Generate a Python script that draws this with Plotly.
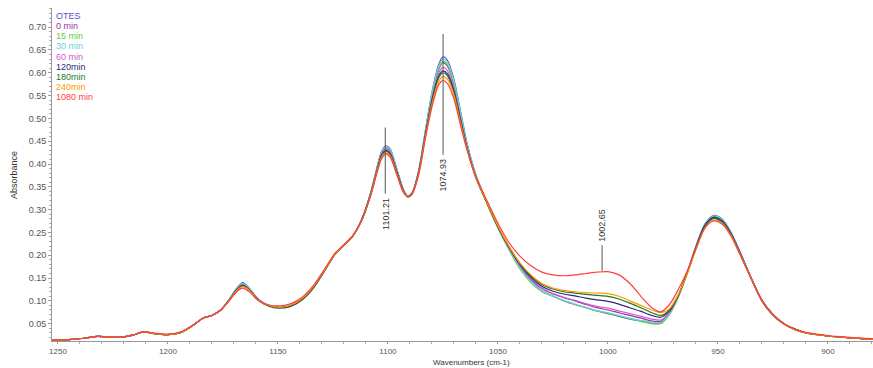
import plotly.graph_objects as go

wavenumber = [1253,1245,1238,1232,1228,1222,1216,1211,1206,1200,
              1194,1189,1184,1180,1176,1172,1169,1166,1163,1159,
              1154,1149,1144,1139,1134,1129,1124,1120,1116,1112,
              1108,1105,1103,1101,1099,1096,1093,1091,1089,1086,
              1083,1080,1077,1075,1073,1070,1067,1064,1060,1055,
              1050,1045,1040,1035,1030,1025,1020,1015,1010,1005,
              1000,995,990,985,980,976,972,968,964,960,
              956,952,948,944,940,935,930,925,920,915,
              910,900,890,879]

otes = [.014,.015,.018,.022,.021,.020,.025,.032,.028,.026,
        .031,.045,.062,.068,.080,.104,.126,.140,.128,.104,
        .089,.084,.089,.103,.128,.165,.203,.222,.242,.278,
        .335,.392,.427,.440,.433,.390,.345,.330,.337,.386,
        .472,.557,.617,.635,.628,.586,.516,.445,.376,.316,
        .262,.215,.175,.145,.122,.110,.100,.092,.085,.078,
        .072,.066,.060,.056,.052,.052,.072,.110,.162,.220,
        .268,.287,.279,.250,.208,.152,.102,.070,.050,.038,
        .030,.023,.019,.016]

min0 = [.014,.015,.018,.022,.021,.020,.025,.032,.028,.026,
        .031,.045,.062,.068,.080,.103,.124,.137,.126,.103,
        .089,.085,.089,.103,.128,.165,.203,.222,.242,.277,
        .333,.389,.423,.436,.429,.387,.343,.329,.336,.384,
        .468,.548,.606,.622,.615,.575,.508,.440,.373,.315,
        .262,.216,.177,.148,.127,.115,.107,.100,.092,.085,
        .080,.074,.068,.062,.056,.055,.073,.110,.161,.218,
        .266,.285,.277,.248,.206,.151,.101,.070,.050,.038,
        .030,.023,.019,.016]

min15 = [.014,.015,.018,.022,.021,.020,.025,.032,.028,.026,
         .031,.045,.062,.068,.080,.103,.124,.136,.126,.103,
         .088,.084,.088,.102,.127,.164,.202,.221,.241,.277,
         .333,.389,.424,.437,.430,.388,.343,.329,.336,.385,
         .469,.551,.608,.625,.618,.578,.510,.441,.373,.314,
         .260,.212,.170,.140,.120,.110,.100,.092,.085,.078,
         .073,.067,.061,.055,.050,.050,.070,.108,.160,.217,
         .265,.284,.276,.247,.205,.150,.100,.069,.049,.037,
         .030,.023,.019,.016]

min30 = [.014,.015,.018,.022,.021,.020,.025,.032,.028,.026,
         .031,.045,.062,.068,.080,.104,.125,.138,.127,.103,
         .088,.084,.089,.103,.128,.165,.203,.222,.242,.278,
         .334,.390,.425,.438,.431,.389,.344,.330,.337,.386,
         .471,.555,.613,.630,.623,.582,.513,.443,.375,.315,
         .261,.214,.173,.143,.122,.111,.101,.093,.086,.079,
         .074,.068,.062,.057,.053,.053,.072,.110,.162,.219,
         .267,.286,.278,.249,.207,.151,.101,.070,.050,.038,
         .030,.023,.019,.016]

min60 = [.014,.015,.018,.022,.021,.020,.025,.032,.028,.026,
         .031,.045,.062,.068,.080,.103,.123,.135,.125,.102,
         .089,.085,.089,.103,.128,.165,.203,.222,.242,.277,
         .332,.387,.421,.433,.426,.385,.342,.329,.336,.383,
         .465,.543,.598,.612,.605,.566,.500,.436,.371,.315,
         .262,.216,.178,.149,.128,.116,.108,.101,.094,.088,
         .084,.078,.072,.066,.060,.058,.075,.111,.160,.216,
         .264,.282,.274,.246,.205,.150,.100,.069,.049,.037,
         .030,.023,.019,.016]

min120 = [.014,.015,.018,.022,.021,.020,.025,.032,.028,.026,
          .031,.045,.062,.068,.080,.103,.123,.134,.124,.102,
          .089,.085,.089,.103,.128,.165,.203,.222,.242,.276,
          .331,.385,.418,.430,.423,.383,.341,.328,.335,.382,
          .463,.539,.592,.604,.598,.561,.497,.434,.370,.315,
          .262,.218,.180,.152,.132,.121,.115,.111,.106,.102,
          .099,.093,.085,.077,.068,.064,.078,.112,.161,.217,
          .265,.283,.275,.247,.206,.151,.101,.070,.050,.038,
          .030,.023,.019,.016]

min180 = [.014,.015,.018,.022,.021,.020,.025,.032,.028,.026,
          .031,.045,.062,.068,.080,.102,.122,.133,.124,.102,
          .089,.085,.090,.104,.129,.165,.203,.222,.242,.276,
          .330,.384,.416,.428,.421,.381,.340,.328,.335,.381,
          .461,.536,.588,.600,.594,.557,.494,.433,.370,.315,
          .263,.219,.182,.155,.136,.126,.120,.117,.114,.112,
          .110,.104,.095,.085,.074,.068,.080,.113,.160,.215,
          .262,.280,.272,.245,.204,.150,.100,.069,.049,.037,
          .030,.023,.019,.016]

min240 = [.014,.015,.018,.022,.021,.020,.025,.032,.028,.026,
          .031,.045,.062,.068,.080,.102,.121,.131,.123,.102,
          .090,.086,.091,.105,.130,.166,.203,.222,.242,.275,
          .329,.382,.413,.425,.418,.379,.339,.328,.334,.379,
          .458,.530,.580,.592,.586,.551,.490,.431,.370,.316,
          .264,.220,.183,.157,.138,.128,.123,.120,.118,.117,
          .116,.110,.100,.090,.080,.074,.083,.114,.158,.212,
          .259,.277,.270,.243,.203,.150,.100,.069,.049,.037,
          .030,.023,.019,.016]

min1080 = [.014,.015,.018,.022,.021,.020,.025,.032,.029,.027,
           .032,.046,.062,.068,.080,.101,.119,.128,.120,.101,
           .091,.089,.094,.108,.133,.168,.205,.223,.243,.275,
           .328,.380,.410,.422,.415,.377,.338,.328,.334,.377,
           .455,.525,.573,.583,.577,.543,.485,.430,.372,.320,
           .270,.228,.198,.177,.163,.157,.155,.157,.160,.163,
           .164,.157,.138,.110,.085,.076,.092,.125,.165,.214,
           .259,.275,.268,.242,.202,.150,.100,.069,.050,.038,
           .031,.024,.020,.017]

series_names = ["OTES", "0 min", "15 min", "30 min", "60 min", "120min", "180min", "240min", "1080 min"]
series_values = [otes, min0, min15, min30, min60, min120, min180, min240, min1080]
series_colors = ["#5555c8", "#9933aa", "#66cc44", "#6ad4d4", "#d455d4", "#2a2a7a", "#1f7a1f", "#ff9a00", "#ff4040"]

peak_labels = ["1101.21", "1074.93", "1002.65"]
peak_positions = [1101.21, 1074.93, 1002.65]
line_spans = [(0.335, 0.480), (0.420, 0.685), (0.166, 0.222)]

fig = go.Figure()
for name, vals, col in zip(series_names, series_values, series_colors):
    fig.add_trace(go.Scatter(x=wavenumber, y=vals, mode="lines", name=name,
                             line=dict(color=col, width=1.2, shape="spline", smoothing=0.8),
                             showlegend=False))

for lab, pos, (y0, y1) in zip(peak_labels, peak_positions, line_spans):
    fig.add_shape(type="line", xref="x", yref="y", x0=pos, x1=pos, y0=y0, y1=y1,
                  line=dict(color="#555555", width=1))
    if lab == "1002.65":
        fig.add_annotation(x=pos, y=y1, xref="x", yref="y", text=lab, textangle=-90,
                           showarrow=False, yanchor="bottom", xanchor="center",
                           font=dict(size=9, color="#333333"), yshift=1)
    else:
        fig.add_annotation(x=pos, y=y0, xref="x", yref="y", text=lab, textangle=-90,
                           showarrow=False, yanchor="top", xanchor="center",
                           font=dict(size=9, color="#333333"), yshift=-2)

# legend as coloured text
top_px = 8
plot_h = 333
for i, (name, col) in enumerate(zip(series_names, series_colors)):
    ypix = 15.7 + i * 10.2
    fig.add_annotation(x=0.003, y=1 - (ypix - top_px) / plot_h, xref="paper", yref="paper",
                       text=name, showarrow=False, xanchor="left", yanchor="middle",
                       font=dict(size=9, color=col))

fig.add_annotation(x=-0.047, y=0.5, xref="paper", yref="paper", text="Absorbance",
                   textangle=-90, showarrow=False, font=dict(size=9, color="#333333"),
                   xanchor="center", yanchor="middle")
fig.add_annotation(x=(471 - 52) / 821, y=-(362 - 341) / plot_h, xref="paper", yref="paper",
                   text="Wavenumbers (cm-1)", showarrow=False,
                   font=dict(size=8, color="#333333"), xanchor="center", yanchor="middle")

fig.update_layout(
    width=873, height=368,
    margin=dict(l=52, r=0, t=8, b=27),
    paper_bgcolor="white", plot_bgcolor="white",
    font=dict(family="Liberation Sans, Arial, sans-serif", size=9, color="#555555"),
    showlegend=False,
)
fig.update_xaxes(range=[1252.7, 879.5], tick0=1250, dtick=50, showgrid=False, zeroline=False,
                 showline=True, linecolor="#999999", linewidth=1,
                 ticks="outside", ticklen=2, tickcolor="#999999",
                 minor=dict(dtick=10, tick0=1250, ticks="outside", ticklen=2, tickcolor="#aaaaaa"),
                 tickfont=dict(size=8, color="#555555"))
fig.update_yaxes(range=[0.012, 0.742], tick0=0.05, dtick=0.05, tickformat=".2f",
                 showgrid=False, zeroline=False,
                 showline=True, linecolor="#999999", linewidth=1,
                 ticks="outside", ticklen=3, tickcolor="#999999",
                 minor=dict(dtick=0.01, ticks="outside", ticklen=2, tickcolor="#aaaaaa"),
                 tickfont=dict(size=9, color="#555555"))

fig.write_html("out.html")
